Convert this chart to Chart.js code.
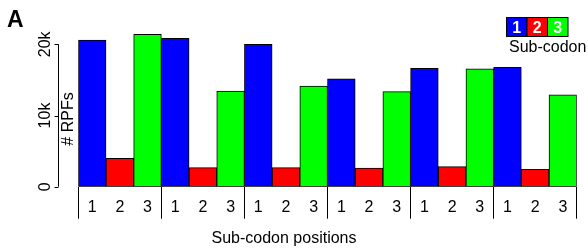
<!DOCTYPE html>
<html><head><meta charset="utf-8">
<script src="https://cdn.jsdelivr.net/npm/chart.js@4/dist/chart.umd.min.js"></script>
<style>html,body{margin:0;padding:0;background:#fff}#wrap{width:588px;height:248px;position:relative}</style>
</head><body><div id="wrap"><canvas id="c" width="588" height="248"></canvas></div>
<script>
const categories = ['1','2','3','1','2','3','1','2','3','1','2','3','1','2','3','1','2','3'];
const subCodon = [1,2,3,1,2,3,1,2,3,1,2,3,1,2,3,1,2,3];
const rpfValues = [20600, 4000, 21400, 20850, 2670, 13440, 20000, 2670, 14140, 15170, 2630, 13350, 16630, 2810, 16570, 16770, 2440, 12920];
const subCodonColors = ['#0000FF', '#FF0000', '#00FF00'];
const yTicks = [0, 10000, 20000];
const yTickLabels = ['0', '10k', '20k'];
const legendLabels = ['1', '2', '3'];
const legendTitle = 'Sub-codon';
const xTitle = 'Sub-codon positions';
const yTitle = '# RPFs';
const panelLabel = 'A';

const FONT = '"Liberation Sans", Arial, sans-serif';

const decor = {
  id: 'decor',
  afterDraw(chart) {
    const ctx = chart.ctx;
    const y = chart.scales.y;
    ctx.save();
    ctx.fillStyle = '#000';
    ctx.strokeStyle = '#000';
    ctx.lineWidth = 1;
    // y axis line and ticks
    const axX = 58.5;
    const y0 = y.getPixelForValue(yTicks[0]);
    const y1 = y.getPixelForValue(yTicks[yTicks.length - 1]);
    ctx.beginPath();
    ctx.moveTo(axX, y0); ctx.lineTo(axX, y1);
    yTicks.forEach(v => {
      const py = Math.round(y.getPixelForValue(v)) + 0.5;
      ctx.moveTo(axX, py); ctx.lineTo(axX - 4, py);
    });
    ctx.stroke();
    // y tick labels rotated
    ctx.font = '16px ' + FONT;
    ctx.textAlign = 'center';
    ctx.textBaseline = 'alphabetic';
    yTicks.forEach((v, i) => {
      ctx.save();
      ctx.translate(50, y.getPixelForValue(v));
      ctx.rotate(-Math.PI / 2);
      ctx.fillText(yTickLabels[i], 0, 0);
      ctx.restore();
    });
    // y title
    ctx.save();
    ctx.translate(73, 119);
    ctx.rotate(-Math.PI / 2);
    ctx.fillText(yTitle, 0, 0);
    ctx.restore();
    // x title
    ctx.textAlign = 'center';
    ctx.fillText(xTitle, 284, 243);
    // panel label
    ctx.font = 'bold 23px ' + FONT;
    ctx.textAlign = 'left';
    ctx.fillText(panelLabel, 7, 26.5);
    // legend
    const bx = 506.5, by = 17.5, bw = 20.5, bh = 19;
    legendLabels.forEach((lab, i) => {
      ctx.fillStyle = subCodonColors[i];
      ctx.fillRect(bx + i * bw, by, bw, bh);
      ctx.strokeStyle = '#000';
      ctx.strokeRect(bx + i * bw, by, bw, bh);
      ctx.fillStyle = '#fff';
      ctx.font = 'bold 16px ' + FONT;
      ctx.textAlign = 'center';
      ctx.fillText(lab, bx + i * bw + bw / 2, by + 15);
    });
    ctx.fillStyle = '#000';
    ctx.font = '16px ' + FONT;
    ctx.textAlign = 'left';
    ctx.fillText(legendTitle, 509, 52);
    ctx.restore();
  }
};

new Chart(document.getElementById('c'), {
  type: 'bar',
  data: {
    labels: categories,
    datasets: [{
      data: rpfValues,
      backgroundColor: subCodon.map(s => subCodonColors[s - 1]),
      borderColor: '#000',
      borderWidth: 1,
      borderSkipped: false,
      barPercentage: 1,
      categoryPercentage: 1
    }]
  },
  options: {
    responsive: false,
    animation: false,
    devicePixelRatio: 1,
    layout: { padding: { left: 78.3, right: 11.3, top: 30.1, bottom: 0 } },
    plugins: { legend: { display: false }, tooltip: { enabled: false }, title: { display: false } },
    scales: {
      x: {
        type: 'category',
        offset: true,
        border: { display: false },
        grid: {
          offset: true,
          drawOnChartArea: false,
          drawTicks: true,
          tickLength: 32,
          lineWidth: 1,
          color: c => (c.type !== 'tick' || c.index % 3 === 0) ? '#000' : 'rgba(0,0,0,0)'
        },
        ticks: { color: '#000', font: { size: 16, family: FONT }, padding: -20.5, maxRotation: 0, autoSkip: false },
        afterFit: s => { s.height = 61.3; }
      },
      y: {
        display: false,
        min: 0,
        max: 22000
      }
    }
  },
  plugins: [decor]
});
</script>
</body></html>
